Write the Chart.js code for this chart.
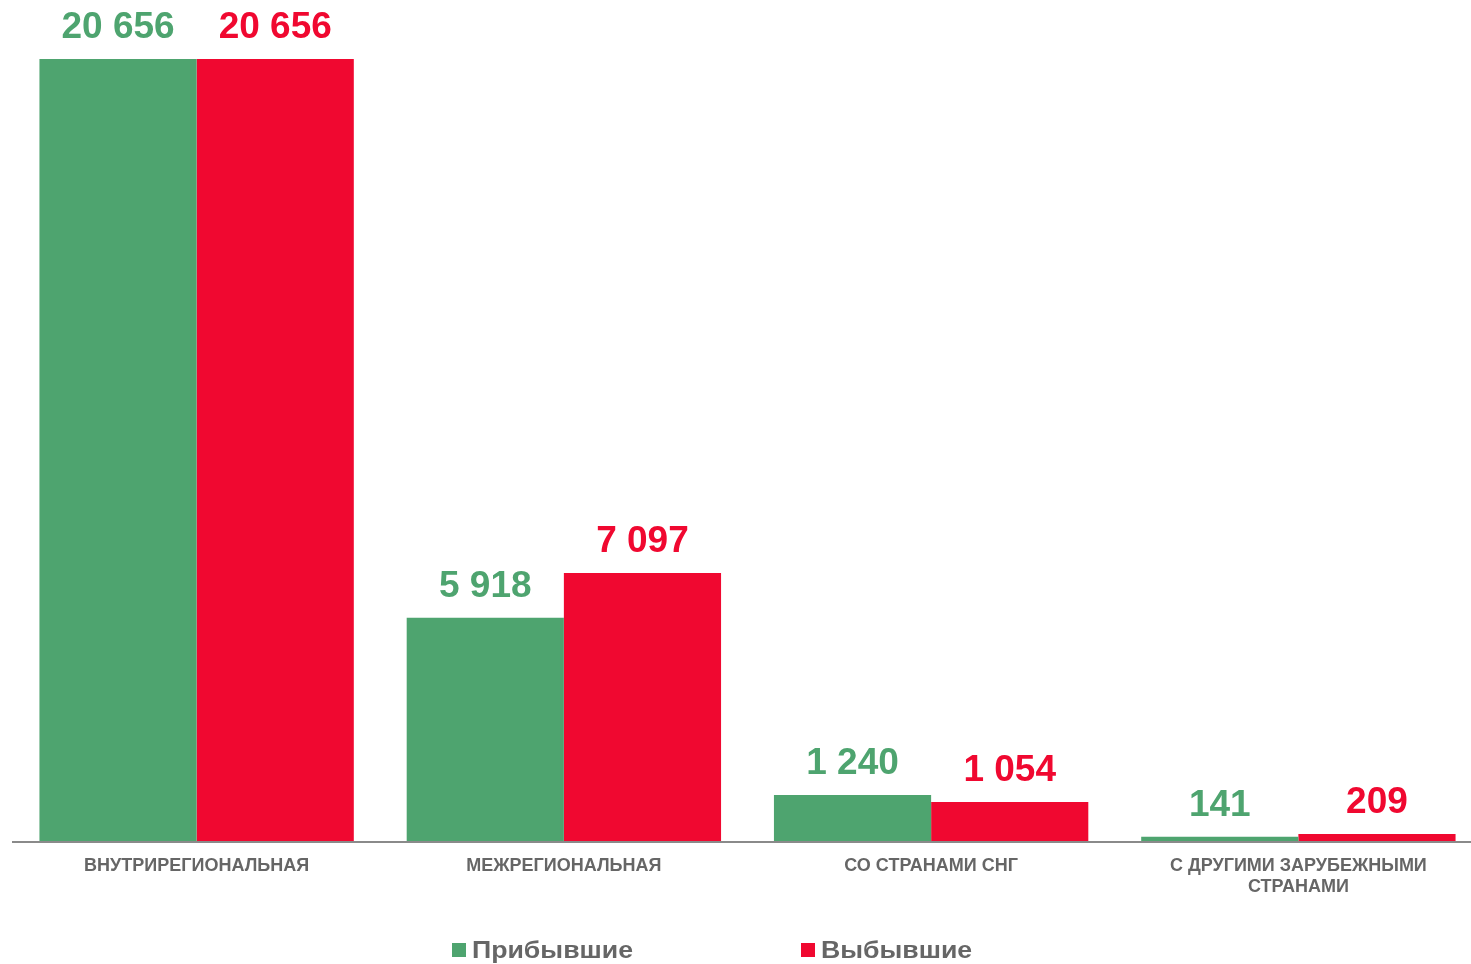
<!DOCTYPE html>
<html>
<head>
<meta charset="utf-8">
<script src="https://cdn.jsdelivr.net/npm/chart.js@4.4.1/dist/chart.umd.min.js"></script>
<style>
  html, body { margin: 0; padding: 0; background: #ffffff; overflow: hidden; }
  #wrap { position: relative; width: 1471px; height: 964px; overflow: hidden; }
  #box { position: absolute; left: 0; top: 0; width: 1485px; height: 964px; }
  .lg-box { position: absolute; width: 14px; height: 14px; top: 943px; }
  .lg-text { position: absolute; top: 938.5px; font: bold 23px "Liberation Sans", Arial, sans-serif;
             line-height: 23px; color: #666666; white-space: nowrap;
             transform: scaleX(1.16); transform-origin: 0 50%; }
</style>
</head>
<body>
<div id="wrap">
  <div id="box"><canvas id="c"></canvas></div>
</div>
<script>
const categories = [
  "ВНУТРИРЕГИОНАЛЬНАЯ",
  "МЕЖРЕГИОНАЛЬНАЯ",
  "СО СТРАНАМИ СНГ",
  ["С ДРУГИМИ ЗАРУБЕЖНЫМИ", "СТРАНАМИ"]
];
const seriesNames = ["Прибывшие", "Выбывшие"];
const arrived = [20656, 5918, 1240, 141];
const departed = [20656, 7097, 1054, 209];

const GREEN = "#4EA46F";
const RED = "#F00830";
const GREY = "#666666";

function fmt(v) {
  return String(v).replace(/\B(?=(\d{3})+(?!\d))/g, " ");
}

const valueLabels = {
  id: "valueLabels",
  afterDatasetsDraw(chart) {
    const ctx = chart.ctx;
    ctx.save();
    ctx.font = "bold 37px 'Liberation Sans', Arial, sans-serif";
    ctx.textAlign = "center";
    ctx.textBaseline = "alphabetic";
    chart.data.datasets.forEach((ds, i) => {
      const meta = chart.getDatasetMeta(i);
      ctx.fillStyle = ds.backgroundColor;
      meta.data.forEach((bar, j) => {
        ctx.fillText(fmt(ds.data[j]), bar.x, bar.y - 21);
      });
    });
    ctx.restore();
  }
};

const chart = new Chart(document.getElementById("c"), {
  type: "bar",
  data: {
    labels: categories,
    datasets: [
      { label: seriesNames[0], data: arrived, backgroundColor: GREEN, borderWidth: 0 },
      { label: seriesNames[1], data: departed, backgroundColor: RED, borderWidth: 0 }
    ]
  },
  options: {
    responsive: true,
    maintainAspectRatio: false,
    animation: false,
    layout: { padding: { top: 59, left: 13, right: 3, bottom: 0 } },
    datasets: { bar: { categoryPercentage: 0.856, barPercentage: 1.0 } },
    plugins: { legend: { display: false }, tooltip: { enabled: false } },
    scales: {
      x: {
        grid: { display: false, drawTicks: false },
        border: { display: true, color: "#8A8A8A", width: 2, z: 1 },
        ticks: {
          color: GREY,
          padding: 13,
          maxRotation: 0,
          autoSkip: false,
          font: { family: "'Liberation Sans', Arial, sans-serif", size: 18, weight: "bold", lineHeight: 1.18 }
        },
        afterFit(scale) { scale.height = 964 - 842; }
      },
      y: {
        display: false,
        min: 0,
        max: Math.max(...arrived, ...departed)
      }
    }
  },
  plugins: [valueLabels]
});

// legend built from the chart's datasets
const legendX = [452, 801];
const wrap = document.getElementById("wrap");
chart.data.datasets.forEach((ds, i) => {
  const b = document.createElement("div");
  b.className = "lg-box";
  b.style.left = legendX[i] + "px";
  b.style.background = ds.backgroundColor;
  wrap.appendChild(b);
  const t = document.createElement("div");
  t.className = "lg-text";
  t.style.left = (legendX[i] + 20) + "px";
  t.textContent = ds.label;
  wrap.appendChild(t);
});
</script>
</body>
</html>
